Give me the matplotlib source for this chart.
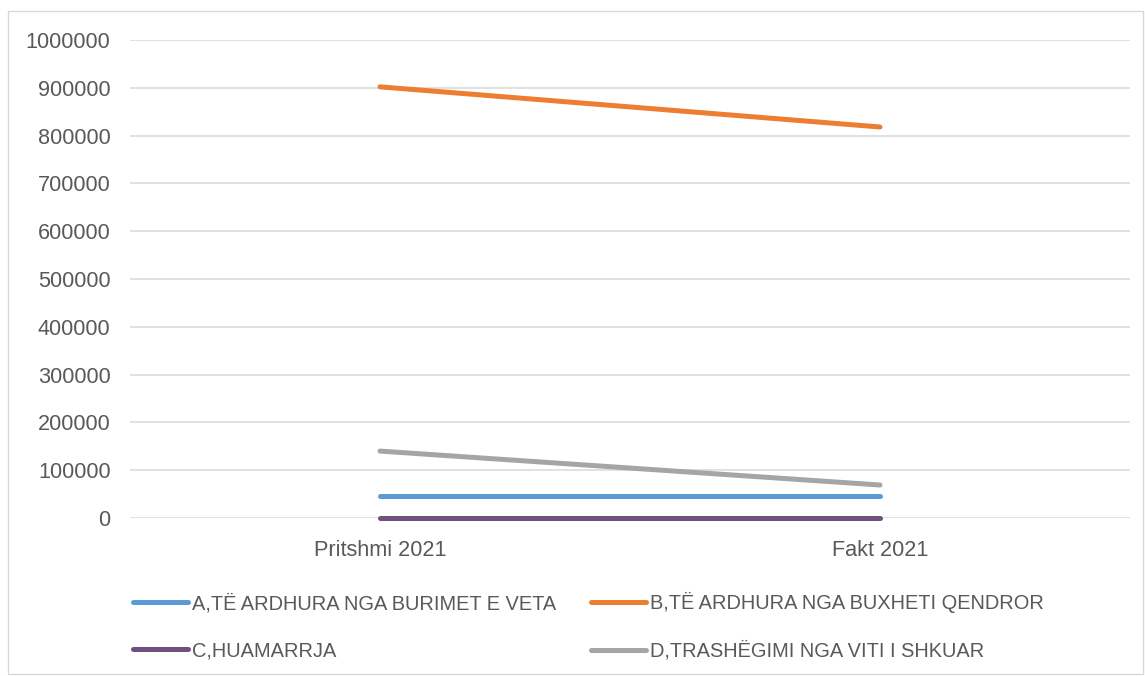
import matplotlib
matplotlib.use('Agg')
import matplotlib.pyplot as plt
from matplotlib.patches import Rectangle

categories = ['Pritshmi 2021', 'Fakt 2021']
series_names = [
    'A,TË ARDHURA NGA BURIMET E VETA',
    'B,TË ARDHURA NGA BUXHETI QENDROR',
    'C,HUAMARRJA',
    'D,TRASHËGIMI NGA VITI I SHKUAR',
]
vals_a = [45000, 45000]
vals_b = [902000, 818000]
vals_c = [0, 0]
vals_d = [140000, 69000]
colors = ['#5b9bd5', '#ed7d31', '#70507f', '#a5a5a5']
yticks = list(range(0, 1000001, 100000))

plt.rcParams['font.family'] = ['Liberation Sans', 'DejaVu Sans']

fig = plt.figure(figsize=(11.45, 6.76), dpi=100)
ax = fig.add_axes([130 / 1145, 1 - 518 / 676, 1000 / 1145, 478 / 676])

x = list(range(len(categories)))
lines = []
for vals, name, col in zip([vals_a, vals_b, vals_c, vals_d], series_names, colors):
    ln, = ax.plot(x, vals, color=col, lw=3.6, solid_capstyle='round', label=name,
                  zorder=3, clip_on=False)
    lines.append(ln)

ax.set_xlim(-0.5, 1.5)
ax.set_ylim(0, 1000000)
ax.set_yticks(yticks)
ax.set_yticklabels([str(v) for v in yticks])
ax.set_xticks(x)
ax.set_xticklabels(categories)
ax.tick_params(axis='both', length=0, labelsize=15.6, colors='#595959')
ax.tick_params(axis='y', pad=14)
ax.tick_params(axis='x', pad=16)
ax.yaxis.grid(True, color='#d9d9d9', lw=1.1)
ax.set_axisbelow(True)
for s in ax.spines.values():
    s.set_visible(False)

# order so the rows read A B / C D
order = [0, 2, 1, 3]
fig.legend([lines[i] for i in order], [series_names[i] for i in order],
           ncol=2, loc='upper left', bbox_to_anchor=(133 / 1145, 1 - 592 / 676),
           frameon=False, fontsize=14.4, handlelength=2.75, handletextpad=0.2,
           columnspacing=1.75, labelspacing=1.4, borderpad=0, borderaxespad=0,
           labelcolor='#595959')

fig.patches.append(Rectangle((8 / 1145, 2 / 676), 1135 / 1145, 663 / 676,
                             transform=fig.transFigure, fill=False,
                             edgecolor='#d9d9d9', lw=1))

fig.savefig('out.png', dpi=100, facecolor='white')
